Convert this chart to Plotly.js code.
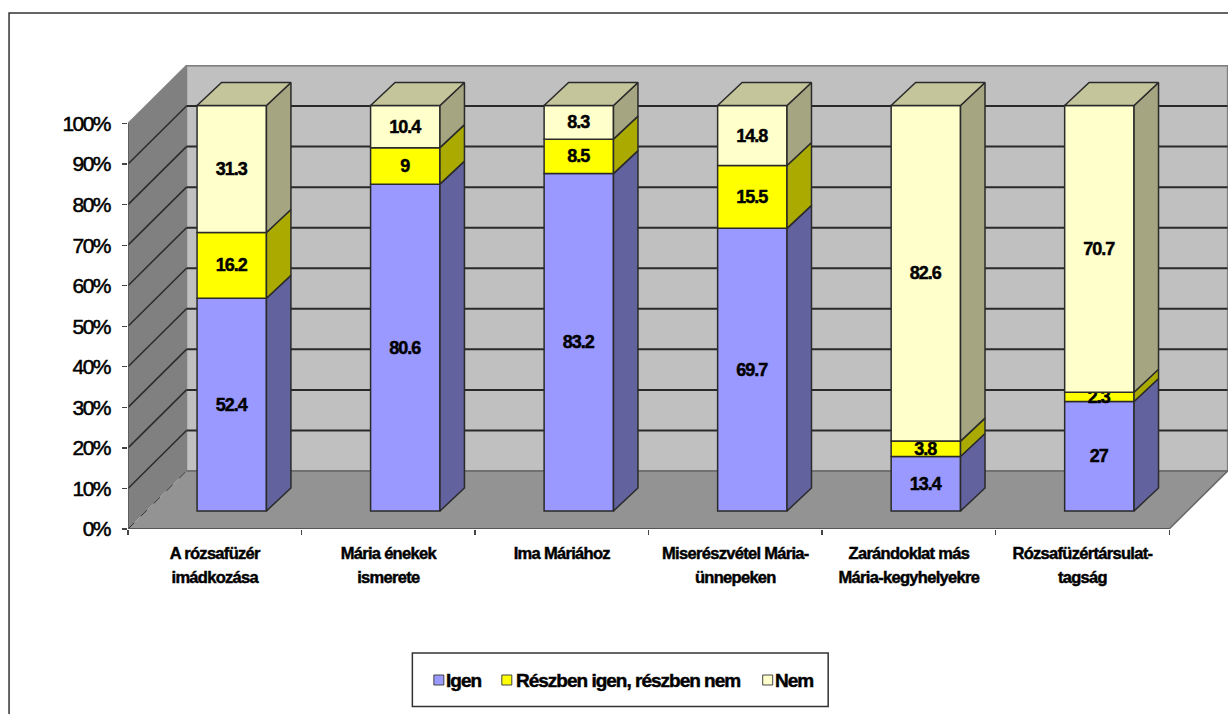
<!DOCTYPE html>
<html><head><meta charset="utf-8">
<script src="https://cdn.plot.ly/plotly-3.0.1.min.js"></script>
<style>html,body{margin:0;padding:0;background:#fff;overflow:hidden}
.ytick text{letter-spacing:-1.6px;stroke:#000;stroke-width:.5px}
.xtick text{letter-spacing:-.7px;stroke:#000;stroke-width:.45px}
.bartext{letter-spacing:-1px;stroke:#000;stroke-width:.45px}
.annotation-text{letter-spacing:-1px;stroke:#000;stroke-width:.45px}
</style>
</head><body><div id="chart" style="width:1228px;height:714px"></div>
<script>
const categories = ["A rózsafüzér<br>imádkozása","Mária énekek<br>ismerete","Ima Máriához","Miserészvétel Mária-<br>ünnepeken","Zarándoklat más<br>Mária-kegyhelyekre","Rózsafüzértársulat-<br>tagság"];
const seriesNames = ["Igen","Részben igen, részben nem","Nem"];
const igen = [52.4,80.6,83.2,69.7,13.4,27];
const reszben = [16.2,9,8.5,15.5,3.8,2.3];
const nem = [31.3,10.4,8.3,14.8,82.6,70.7];
const frontColors = ["#9999FF","#FFFF00","#FFFFCC"];
const sideColors = ["#62629F","#AAAA00","#A5A582"];
const topColor = "#C5C59C";
const yTicks = [0,10,20,30,40,50,60,70,80,90,100];

const FONT = '"Liberation Sans",Arial,sans-serif';
const W=1228,H=714,L=127.5,B=185,T=65;
const catPx=173.6, valPx=4.055;
const pw=W-L, ph=H-B-T;
const wallDx=58.5/catPx, wallDy=58/valPx;
const barOff=17/catPx, barW=69.4/catPx, baseY=18/valPx;
const depthX=24.5/catPx, depthY=23/valPx;
const line="#2a2a2a";
const px=v=>(v-L)/pw, py=v=>(H-B-v)/ph;

const n=categories.length;
const series=[igen,reszben,nem];
const totals=categories.map((_,i)=>igen[i]+reszben[i]+nem[i]);
const centers=categories.map((_,i)=>i+0.5+barOff);

const traces=[]; const cum=categories.map(()=>0);
series.forEach((s,k)=>{
  const bases=[],hs=[],sx=[],sy=[];
  s.forEach((v,i)=>{
    const h=v/totals[i]*100, b=cum[i]+baseY;
    bases.push(b);hs.push(h);
    const r=centers[i]+barW/2;
    sx.push(r,r+depthX,r+depthX,r,r,null);
    sy.push(b,b+depthY,b+h+depthY,b+h,b,null);
    cum[i]+=h;
  });
  traces.push({type:'bar',name:seriesNames[k],x:centers,y:hs,base:bases,width:barW,
    marker:{color:frontColors[k],line:{color:line,width:1.5}},
    text:s.map(String),textposition:'inside',insidetextanchor:'middle',textangle:0,constraintext:'none',
    insidetextfont:{family:FONT,size:18,color:'#000',weight:700},cliponaxis:false,hoverinfo:'skip',showlegend:false});
  traces.push({type:'scatter',mode:'lines',x:sx,y:sy,fill:'toself',fillcolor:sideColors[k],
    line:{color:line,width:1.5},cliponaxis:false,hoverinfo:'skip',showlegend:false});
});
const tx=[],ty=[];
centers.forEach(c=>{const l=c-barW/2,r=c+barW/2,t=100+baseY;
  tx.push(l,r,r+depthX,l+depthX,l,null);ty.push(t,t,t+depthY,t+depthY,t,null);});
traces.push({type:'scatter',mode:'lines',x:tx,y:ty,fill:'toself',fillcolor:topColor,
  line:{color:line,width:1.5},cliponaxis:false,hoverinfo:'skip',showlegend:false});

const poly=(pts,fill,lc,lw)=>({type:'path',xref:'x',yref:'y',layer:'below',
  path:pts.map((p,i)=>(i?'L':'M')+p[0]+','+p[1]).join(' ')+' Z',fillcolor:fill,line:{color:lc||fill,width:lw||0}});
const seg=(a,b,c,w,d)=>({type:'line',xref:'x',yref:'y',layer:'below',x0:a[0],y0:a[1],x1:b[0],y1:b[1],line:{color:c,width:w,dash:d||'solid'}});
const shapes=[];
shapes.push({type:'rect',xref:'paper',yref:'paper',x0:px(8.5),x1:px(W+20),y0:py(H+20),y1:py(13),line:{color:'#333',width:1.5},fillcolor:'rgba(0,0,0,0)',layer:'below'});
shapes.push(poly([[wallDx,wallDy],[6+wallDx,wallDy],[6+wallDx,100+wallDy],[wallDx,100+wallDy]],'#C0C0C0','#808080',1.5));
shapes.push(poly([[0,0],[wallDx,wallDy],[wallDx,100+wallDy],[0,100]],'#808080'));
shapes.push(poly([[0,0],[6,0],[6+wallDx,wallDy],[wallDx,wallDy]],'#939393'));
yTicks.forEach(v=>{
  const c=v===100?'#808080':line;
  if(v>0) shapes.push(seg([0,v],[wallDx,v+wallDy],c,1.5));
  shapes.push(seg([wallDx,v+wallDy],[6+wallDx,v+wallDy],v===0?'#666':c,v===0?1.5:2));
});
shapes.push(seg([0,0],[wallDx,wallDy],'#333',1,'dash'));
shapes.push(seg([0,0],[0,100],'#555',1.5));
shapes.push(seg([0,0],[6,0],'#555',2));
shapes.push(seg([6,0],[6+wallDx,wallDy],'#666',1.5));

shapes.push({type:'rect',xref:'paper',yref:'paper',x0:px(412),x1:px(828),y0:py(706.5),y1:py(653),line:{color:'#333',width:1.5},fillcolor:'#fff'});
const swatchX=[433.5,501.5,762.5], textX=[445.5,515.5,775];
const annotations=[];
seriesNames.forEach((nm,k)=>{
  shapes.push({type:'rect',xref:'paper',yref:'paper',x0:px(swatchX[k]),x1:px(swatchX[k]+10),y0:py(685),y1:py(675),fillcolor:frontColors[k],line:{color:'#444',width:1}});
  annotations.push({xref:'paper',yref:'paper',x:px(textX[k]),y:py(680),xanchor:'left',yanchor:'middle',showarrow:false,text:nm,
    font:{family:FONT,size:19,color:'#000',weight:700},borderpad:0,borderwidth:0});
});

const layout={width:W,height:H,margin:{l:L,r:0,t:T,b:B,pad:0},paper_bgcolor:'#fff',plot_bgcolor:'rgba(0,0,0,0)',
  barmode:'overlay',showlegend:false,hovermode:false,font:{family:FONT,color:'#000'},
  xaxis:{range:[0,pw/catPx],showgrid:false,zeroline:false,showline:false,fixedrange:true,
    tickmode:'array',tickvals:categories.map((_,i)=>i+0.5),
    ticktext:categories.map(c=>c.split('<br>').map(t=>'<span style="font-size:16.5px">'+t+'</span>').join('<br>')),
    ticks:'',ticklen:0,tickangle:0,tickfont:{family:FONT,size:18.5,color:'#000',weight:700},ticklabelstandoff:10,automargin:false,
    minor:{tickmode:'array',tickvals:[0,1,2,3,4,5,6],ticks:'outside',ticklen:5,tickcolor:'#444',tickwidth:1.2,showgrid:false}},
  yaxis:{range:[0,ph/valPx],showgrid:false,zeroline:false,showline:false,fixedrange:true,
    tickmode:'array',tickvals:yTicks,ticktext:yTicks.map(v=>v+'%'),ticks:'outside',ticklen:5,tickcolor:'#444',tickwidth:1.2,
    tickfont:{family:FONT,size:21,color:'#000'},ticklabelstandoff:8,automargin:false},
  shapes,annotations};
Plotly.newPlot('chart',traces,layout,{staticPlot:true,displayModeBar:false});
</script></body></html>
